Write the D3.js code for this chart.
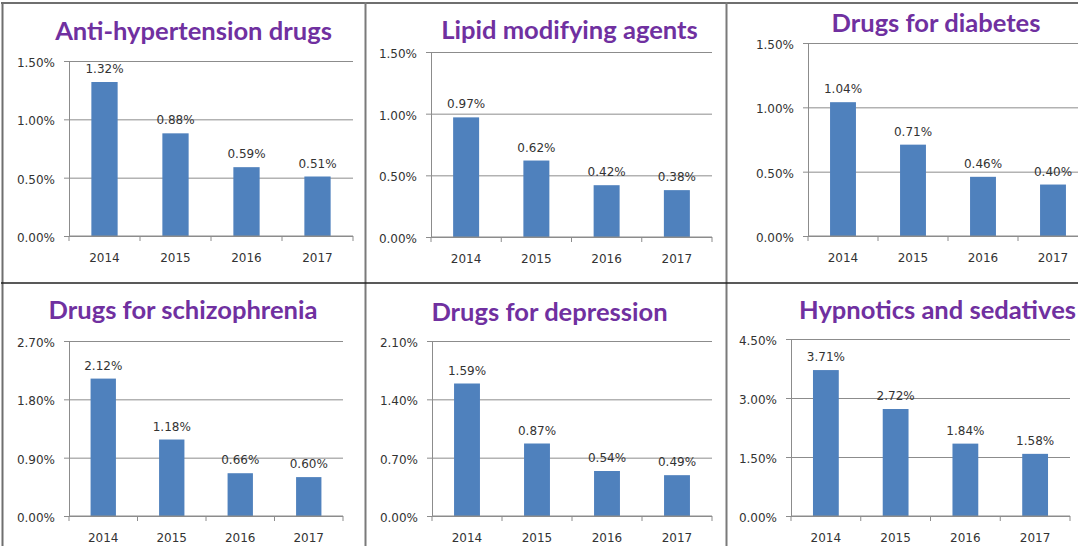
<!DOCTYPE html>
<html>
<head>
<meta charset="utf-8">
<script src="https://cdn.jsdelivr.net/npm/d3@7"></script>
<style>
  html, body { margin: 0; padding: 0; background: #fff; }
  svg { display: block; }
</style>
</head>
<body>
<svg id="chart" width="1078" height="546"></svg>
<script>
// ---------- DATA ----------
const years = ["2014", "2015", "2016", "2017"];
const titles = [
  "Anti-hypertension drugs",
  "Lipid modifying agents",
  "Drugs for diabetes",
  "Drugs for schizophrenia",
  "Drugs for depression",
  "Hypnotics and sedatives"
];
const antiHypertension = [1.32, 0.88, 0.59, 0.51];
const lipidModifying   = [0.97, 0.62, 0.42, 0.38];
const diabetes         = [1.04, 0.71, 0.46, 0.40];
const schizophrenia    = [2.12, 1.18, 0.66, 0.60];
const depression       = [1.59, 0.87, 0.54, 0.49];
const hypnotics        = [3.71, 2.72, 1.84, 1.58];
const seriesValues = [antiHypertension, lipidModifying, diabetes, schizophrenia, depression, hypnotics];

const ticks15 = [0, 0.5, 1.0, 1.5];
const ticks27 = [0, 0.9, 1.8, 2.7];
const ticks21 = [0, 0.7, 1.4, 2.1];
const ticks45 = [0, 1.5, 3.0, 4.5];
const tickLabels15 = ["0.00%", "0.50%", "1.00%", "1.50%"];
const tickLabels27 = ["0.00%", "0.90%", "1.80%", "2.70%"];
const tickLabels21 = ["0.00%", "0.70%", "1.40%", "2.10%"];
const tickLabels45 = ["0.00%", "1.50%", "3.00%", "4.50%"];
const tickValuesList = [ticks15, ticks15, ticks15, ticks27, ticks21, ticks45];
const tickLabelsList = [tickLabels15, tickLabels15, tickLabels15, tickLabels27, tickLabels21, tickLabels45];

// ---------- LAYOUT (positions only) ----------
const frames = [
  { x0: 69,  x1: 353,  yTop: 61,  yZero: 236, tx: 193.5, ty: 40 },
  { x0: 431, x1: 712,  yTop: 52,  yZero: 237, tx: 569.5, ty: 39 },
  { x0: 808, x1: 1088, yTop: 43,  yZero: 236, tx: 936,   ty: 32 },
  { x0: 69,  x1: 343,  yTop: 341, yZero: 516, tx: 183,   ty: 319 },
  { x0: 432, x1: 712,  yTop: 341, yZero: 516, tx: 549.5, ty: 321 },
  { x0: 791, x1: 1070, yTop: 339, yZero: 516, tx: 937.5, ty: 319 }
];

const BAR = "#4F81BD";
const GRID = "#8c8c8c";
const TEXT = "#333333";
const TITLE = "#7030A0";
const FONT = "'DejaVu Sans', sans-serif";
const TITLE_FONT = "Lato, 'Open Sans', sans-serif";

const svg = d3.select("#chart");

// fit title font size: measure first title, target width 277
let titleSize = 22;
{
  const t = svg.append("text").attr("font-family", TITLE_FONT).attr("font-weight", "bold")
    .attr("font-size", 22).text(titles[0]);
  const w = t.node().getComputedTextLength();
  if (w > 0) titleSize = 22 * 277 / w;
  t.remove();
}

frames.forEach((f, i) => {
  const vals = seriesValues[i];
  const tv = tickValuesList[i];
  const tl = tickLabelsList[i];
  const g = svg.append("g");

  const x = d3.scaleBand().domain(years).range([f.x0, f.x1])
    .paddingInner(0.63).paddingOuter(0.315);
  const y = d3.scaleLinear().domain([0, tv[tv.length - 1]]).range([f.yZero, f.yTop]);

  // gridlines
  const grid = g.append("g").attr("transform", `translate(${f.x0},0)`)
    .call(d3.axisLeft(y).tickValues(tv).tickSize(-(f.x1 - f.x0)).tickFormat(""));
  grid.select(".domain").remove();
  grid.selectAll("line").attr("stroke", GRID).attr("stroke-width", 1);

  // y axis
  const ya = g.append("g").attr("transform", `translate(${f.x0},0)`)
    .call(d3.axisLeft(y).tickValues(tv).tickSize(5).tickSizeOuter(0).tickPadding(9)
      .tickFormat((d, k) => tl[k]));
  ya.select(".domain").attr("stroke", GRID);
  ya.selectAll(".tick line").attr("stroke", GRID);
  ya.selectAll(".tick text").attr("font-family", FONT).attr("font-size", 12)
    .attr("fill", TEXT).attr("dy", "0.45em");

  // bars
  g.selectAll("rect.bar").data(vals).join("rect")
    .attr("class", "bar")
    .attr("x", (d, k) => x(years[k]))
    .attr("width", x.bandwidth())
    .attr("y", d => y(d))
    .attr("height", d => y(0) - y(d))
    .attr("fill", BAR);

  // x axis line
  g.append("line").attr("x1", f.x0).attr("x2", f.x1)
    .attr("y1", y(0)).attr("y2", y(0)).attr("stroke", GRID).attr("stroke-width", 1);

  // category boundary ticks
  const step = x.step();
  const bounds = d3.range(years.length + 1).map(k => f.x0 + k * step);
  g.selectAll("line.ctick").data(bounds).join("line")
    .attr("class", "ctick")
    .attr("x1", d => d).attr("x2", d => d)
    .attr("y1", y(0)).attr("y2", y(0) + 5)
    .attr("stroke", GRID);

  // year labels
  g.selectAll("text.year").data(years).join("text")
    .attr("class", "year")
    .attr("x", d => x(d) + x.bandwidth() / 2)
    .attr("y", y(0) + 26)
    .attr("text-anchor", "middle")
    .attr("font-family", FONT).attr("font-size", 12).attr("fill", TEXT)
    .text(d => d);

  // data labels
  g.selectAll("text.val").data(vals).join("text")
    .attr("class", "val")
    .attr("x", (d, k) => x(years[k]) + x.bandwidth() / 2)
    .attr("y", d => y(d) - 9)
    .attr("text-anchor", "middle")
    .attr("font-family", FONT).attr("font-size", 12).attr("fill", TEXT)
    .text(d => d.toFixed(2) + "%");

  // title
  g.append("text")
    .attr("x", f.tx).attr("y", f.ty)
    .attr("text-anchor", "middle")
    .attr("font-family", TITLE_FONT).attr("font-weight", "bold")
    .attr("font-size", titleSize).attr("fill", TITLE)
    .text(titles[i]);
});

// panel borders
const borders = svg.append("g");
borders.append("line").attr("x1", 1).attr("x2", 1078).attr("y1", 3).attr("y2", 3)
  .attr("stroke", "#6f6f6f").attr("stroke-width", 2);
borders.append("line").attr("x1", 2.5).attr("x2", 2.5).attr("y1", 2).attr("y2", 546)
  .attr("stroke", "#6f6f6f").attr("stroke-width", 2);
[365.5, 726.5].forEach(xv => {
  borders.append("line").attr("x1", xv).attr("x2", xv).attr("y1", 2).attr("y2", 546)
    .attr("stroke", "#7a7a7a").attr("stroke-width", 2);
});
borders.append("line").attr("x1", 1).attr("x2", 1078).attr("y1", 283).attr("y2", 283)
  .attr("stroke", "#222").attr("stroke-width", 1.5);
</script>
</body>
</html>
